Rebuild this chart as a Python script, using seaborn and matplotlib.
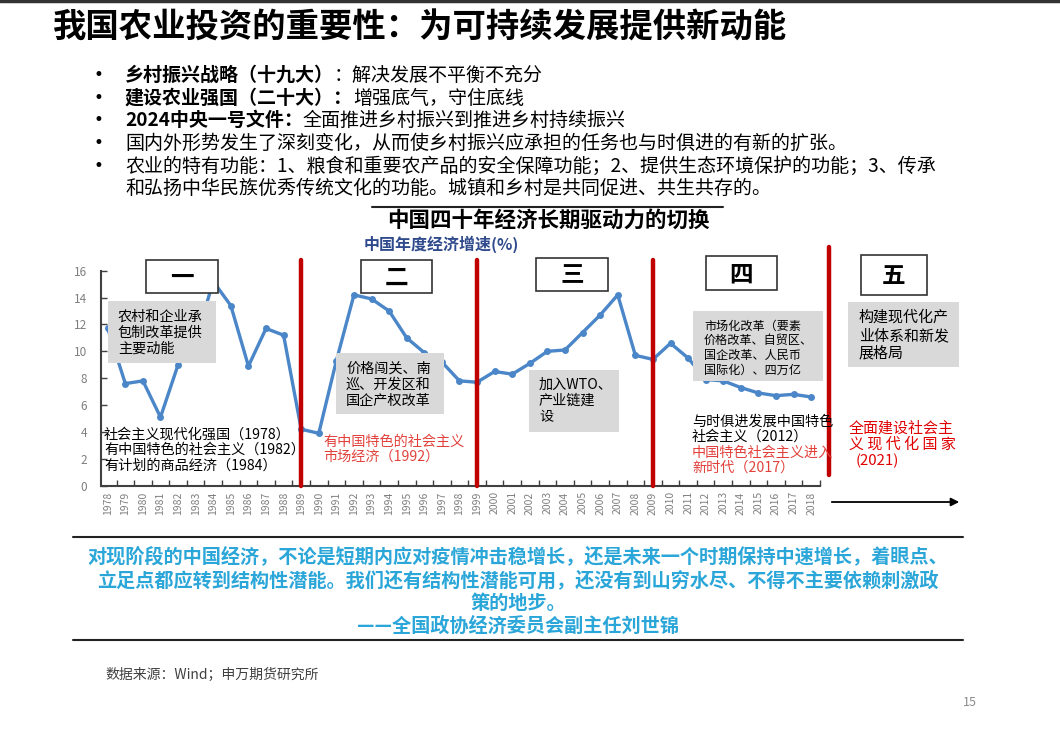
import matplotlib
matplotlib.use('Agg')
import numpy as np
import pandas as pd
import matplotlib.pyplot as plt
import seaborn as sns
from matplotlib.patches import Rectangle, FancyArrowPatch
from matplotlib.lines import Line2D

# data
years = list(range(1978, 2019))
growth = [11.7, 7.6, 7.8, 5.1, 9.0, 10.8, 15.2, 13.4, 8.9, 11.7, 11.2,
          4.2, 3.9, 9.3, 14.2, 13.9, 13.0, 11.0, 9.9, 9.2, 7.8, 7.7,
          8.5, 8.3, 9.1, 10.0, 10.1, 11.4, 12.7, 14.2, 9.7, 9.4,
          10.6, 9.5, 7.9, 7.8, 7.3, 6.9, 6.7, 6.8, 6.6]
stage_breaks = [1989, 1999, 2009]
stage_labels = ['一', '二', '三', '四', '五']
stage_texts = ['农村和企业承\n包制改革提供\n主要动能',
               '价格闯关、南\n巡、开发区和\n国企产权改革',
               '加入WTO、\n产业链建\n设',
               '市场化改革（要素\n价格改革、自贸区、\n国企改革、人民币\n国际化）、四万亿',
               '构建现代化产\n业体系和新发\n展格局']

title = '我国农业投资的重要性：为可持续发展提供新动能'
bullets = [('乡村振兴战略（十九大）', '：解决发展不平衡不充分'),
           ('建设农业强国（二十大）：', '增强底气，守住底线'),
           ('2024中央一号文件：', '全面推进乡村振兴到推进乡村持续振兴'),
           ('', '国内外形势发生了深刻变化，从而使乡村振兴应承担的任务也与时俱进的有新的扩张。'),
           ('', '农业的特有功能：1、粮食和重要农产品的安全保障功能；2、提供生态环境保护的功能；3、传承')]
bullet_cont = '和弘扬中华民族优秀传统文化的功能。城镇和乡村是共同促进、共生共存的。'
quote_lines = ['对现阶段的中国经济，不论是短期内应对疫情冲击稳增长，还是未来一个时期保持中速增长，着眼点、',
               '立足点都应转到结构性潜能。我们还有结构性潜能可用，还没有到山穷水尽、不得不主要依赖刺激政',
               '策的地步。',
               '——全国政协经济委员会副主任刘世锦']

sns.set_theme(style='white')
plt.rcParams['font.family'] = ['Noto Sans CJK SC', 'DejaVu Sans']

W, H = 1060, 734
fig = plt.figure(figsize=(10.6, 7.34), dpi=100)
fig.patch.set_facecolor('white')


def fx(x):
    return x / W


def fy(y):
    return 1 - y / H


def hline(x0, x1, y, color='#222222', lw=1.5):
    fig.add_artist(Line2D([fx(x0), fx(x1)], [fy(y), fy(y)], transform=fig.transFigure,
                          color=color, lw=lw))


def rect(x0, y0, x1, y1, fc, ec='none', lw=1.0):
    fig.add_artist(Rectangle((fx(x0), fy(y1)), (x1 - x0) / W, (y1 - y0) / H,
                             transform=fig.transFigure, fc=fc, ec=ec, lw=lw, zorder=5))


def txt(x, y, s, **kw):
    kw.setdefault('va', 'center')
    kw.setdefault('zorder', 6)
    return fig.text(fx(x), fy(y), s, **kw)


def block(x, y_first, s, fs, ls, **kw):
    # multi-line text, y_first = centre of first line in pixels
    return txt(x, y_first - fs * 100 / 72 * 0.45, s, fontsize=fs, linespacing=ls,
               va='top', **kw)


# top border and title
hline(0, W, 1, color='#333333', lw=2.5)
txt(53, 28, title, fontsize=24, fontweight='bold', color='black')

# bullets with bold lead-ins
renderer = fig.canvas.get_renderer()
bullet_y = [75, 98, 120, 143, 166]
bfs = 13.7
for (bold, rest), y in zip(bullets, bullet_y):
    txt(93, y, '•', fontsize=12, color='black', family='DejaVu Sans')
    if bold:
        t = txt(125, y, bold, fontsize=bfs, fontweight='bold', color='black')
        bb = t.get_window_extent(renderer=renderer)
        fig.text(bb.x1 / W, fy(y), rest, fontsize=bfs, color='black', va='center', zorder=6)
    else:
        txt(125, y, rest, fontsize=bfs, color='black')
txt(125, 188, bullet_cont, fontsize=bfs, color='black')

# chart titles
hline(372, 723, 207, lw=1.5)
txt(548, 220, '中国四十年经济长期驱动力的切换', fontsize=15.5, fontweight='bold',
    ha='center', color='black')
txt(441, 244, '中国年度经济增速(%)', fontsize=11.5, fontweight='bold',
    ha='center', color='#2F4A8C')

# main line chart
ax = fig.add_axes([fx(100.7), fy(485.7), (820 - 100.7) / W, (485.7 - 270.7) / H])
ax.set_facecolor('none')
df = pd.DataFrame({'year': years, 'growth': growth})
sns.lineplot(data=df, x='year', y='growth', ax=ax, color='#4A86C8', lw=2.4,
             marker='o', markersize=5, markeredgewidth=0)
ax.set_xlim(1977.6, 2018.5)
ax.set_ylim(0, 16)
ax.set_yticks(range(0, 17, 2))
ax.set_xticks(years)
ax.set_xticklabels([str(y) for y in years], rotation=90, fontsize=7.5, color='#7F7F7F')
ax.set_xticks(np.arange(1978.5, 2018.6, 1), minor=True)
ax.tick_params(axis='x', which='major', length=0, pad=4)
ax.tick_params(axis='x', which='minor', direction='in', length=4, width=1, color='#404040',
               bottom=True)
ax.tick_params(axis='y', direction='in', length=4, width=1, color='#404040',
               labelsize=8.5, labelcolor='#7F7F7F', pad=10, left=True)
for sp in ['top', 'right']:
    ax.spines[sp].set_visible(False)
for sp in ['left', 'bottom']:
    ax.spines[sp].set_color('#404040')
    ax.spines[sp].set_linewidth(1.5)
ax.set_xlabel('')
ax.set_ylabel('')

for b in stage_breaks:
    ax.plot([b, b], [0, 16.8], color='#C00000', lw=3.2, clip_on=False, zorder=4)
ax.plot([2019, 2019], [0.8, 17.75], color='#C00000', lw=3.2, clip_on=False, zorder=4)

# stage number boxes
num_boxes = [(146, 260, 218, 293), (361, 260, 432, 293), (536, 258, 608, 291),
             (706, 256, 777, 290), (861, 255, 927, 295)]
for lab, (x0, y0, x1, y1) in zip(stage_labels, num_boxes):
    rect(x0, y0, x1, y1, fc='white', ec='#333333', lw=1.2)
    txt((x0 + x1) / 2, (y0 + y1) / 2 + 1, lab, fontsize=17, fontweight='bold',
        ha='center', color='black')

# grey description boxes: box, text x, first line y, font size, line spacing
grey_boxes = [(108, 301, 216, 363, 118, 316, 10.2, 1.17),
              (336, 353, 444, 414, 346, 368, 10.2, 1.19),
              (529, 370, 619, 432, 539, 384, 10.2, 1.22),
              (693, 311, 823, 381, 704, 325, 8.7, 1.18),
              (848, 302, 959, 367, 859, 317, 10.8, 1.28)]
for s, (x0, y0, x1, y1, tx, ty, fs, ls) in zip(stage_texts, grey_boxes):
    rect(x0, y0, x1, y1, fc='#D9D9D9')
    block(tx, ty, s, fs, ls, color='black')

# milestone annotations
block(104, 434, '社会主义现代化强国（1978）\n有中国特色的社会主义（1982）\n有计划的商品经济（1984）',
      10.2, 1.12, color='black')
block(323, 441, '有中国特色的社会主义\n市场经济（1992）', 10.2, 1.08, color='#E2413B')
block(692, 421, '与时俱进发展中国特色\n社会主义（2012）', 10.2, 1.06, color='black')
block(692, 452, '中国特色社会主义进入\n新时代（2017）', 10.2, 1.12, color='#E2413B')
txt(849, 428, '全面建设社会主', fontsize=10.8, color='#E00000')
txt(849, 444, '义 现 代 化 国 家', fontsize=10.8, color='#E00000')
txt(856, 461, '(2021)', fontsize=10.8, color='#E00000')

fig.add_artist(FancyArrowPatch((fx(829), fy(502)), (fx(962), fy(502)),
                               transform=fig.transFigure, arrowstyle='-|>',
                               mutation_scale=12, color='black', lw=1.3))

# quote block
hline(73, 963, 537, lw=1.5)
hline(73, 963, 640, lw=1.5)
for s, y in zip(quote_lines, [556, 580, 603, 626]):
    txt(518, y, s, fontsize=13.8, fontweight='bold', ha='center', color='#2BA6D8')

txt(105, 675, '数据来源：Wind；申万期货研究所', fontsize=10, color='#404040', style='italic')
txt(970, 703, '15', fontsize=9, color='#8C8C8C', ha='center')

fig.savefig('out.png', dpi=100)
